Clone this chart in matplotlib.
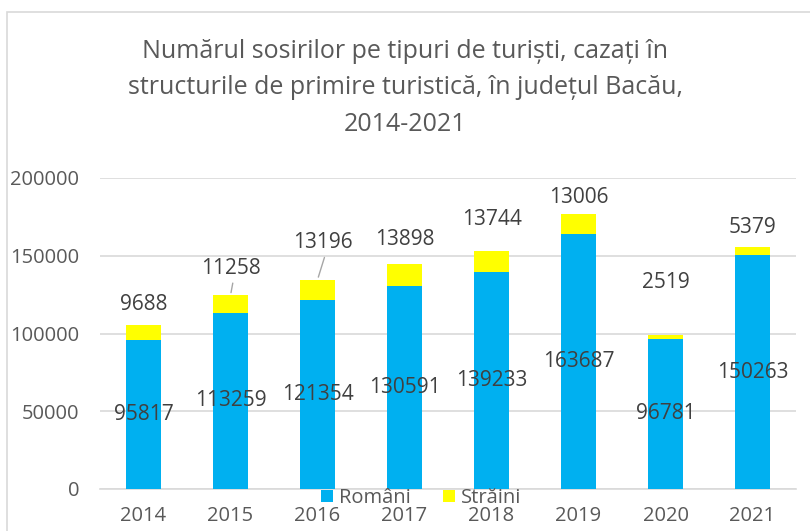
import matplotlib.pyplot as plt
from matplotlib.patches import Rectangle
import numpy as np

years = ['2014', '2015', '2016', '2017', '2018', '2019', '2020', '2021']
romani = [95817, 113259, 121354, 130591, 139233, 163687, 96781, 150263]
straini = [9688, 11258, 13196, 13898, 13744, 13006, 2519, 5379]

# label offsets for the yellow labels (pixels above bar top), Excel moved some
lab_dy = [20, 27, 37, 25, 32, 17, 52, 19]
lab_dx = [0, 0, 5, 0, 0, 0, 0, 0]
leader = [False, True, True, False, False, False, False, False]

blue = '#00B0F0'
yellow = '#FFFF00'
plt.rcParams['font.family'] = ['Open Sans', 'DejaVu Sans']

fig = plt.figure(figsize=(8.1, 5.31), dpi=100)
fig.patches.append(Rectangle((7/810, -0.1), 1.2, 1 - 12/531 + 0.1, transform=fig.transFigure,
                             fill=False, edgecolor='#D9D9D9', linewidth=1.2))

ax = fig.add_axes([100/810, 1 - 489/531, 696/810, (489 - 178)/531])
x = np.arange(len(years))
ax.bar(x, romani, width=0.4, color=blue, zorder=3, label='Români')
tops = [r + s for r, s in zip(romani, straini)]
ax.bar(x, straini, width=0.4, bottom=romani, color=yellow, zorder=3, label='Străini')

ax.set_ylim(0, 200000)
ax.set_xlim(-0.5, len(years) - 0.5)
ax.set_yticks(range(0, 200001, 50000))
ax.yaxis.grid(True, color='#D9D9D9', linewidth=1.2, zorder=0)
for s in ax.spines.values():
    s.set_visible(False)
ax.spines['bottom'].set_visible(True)
ax.spines['bottom'].set_color('#D9D9D9')
ax.spines['bottom'].set_linewidth(1.2)
ax.tick_params(length=0, labelsize=14.5, labelcolor='#595959')
ax.tick_params(axis='x', pad=12)
ax.tick_params(axis='y', pad=15)
ax.set_xticks(x)
ax.set_xticklabels(years)

for i in range(len(years)):
    ax.text(x[i], romani[i] / 2, str(romani[i]), ha='center', va='center',
            fontsize=15, color='#404040', zorder=5)
    ax.annotate(str(straini[i]), xy=(x[i], tops[i]),
                xytext=(lab_dx[i] * 0.72, lab_dy[i] * 0.72), textcoords='offset points',
                ha='center', va='center', fontsize=15, color='#404040', zorder=5)
    if leader[i]:
        ax.annotate('', xy=(x[i], tops[i]),
                    xytext=(lab_dx[i] * 0.72 + 2, (lab_dy[i] - 12) * 0.72), textcoords='offset points',
                    arrowprops=dict(arrowstyle='-', color='#A6A6A6', lw=1))

fig.text(0.5, 1 - 88/531, 'Numărul sosirilor pe tipuri de turiști, cazați în\n'
         'structurile de primire turistică, în județul Bacău,\n2014-2021',
         ha='center', va='center', fontsize=18, color='#595959', linespacing=1.62)

fig.legend(loc='center', bbox_to_anchor=(0.52, 1 - 498/531), ncol=2, frameon=False,
           fontsize=14.5, labelcolor='#595959', handlelength=0.6, handleheight=0.6,
           handletextpad=0.3, columnspacing=1.6, borderpad=0)

fig.savefig('out.png', dpi=100)
